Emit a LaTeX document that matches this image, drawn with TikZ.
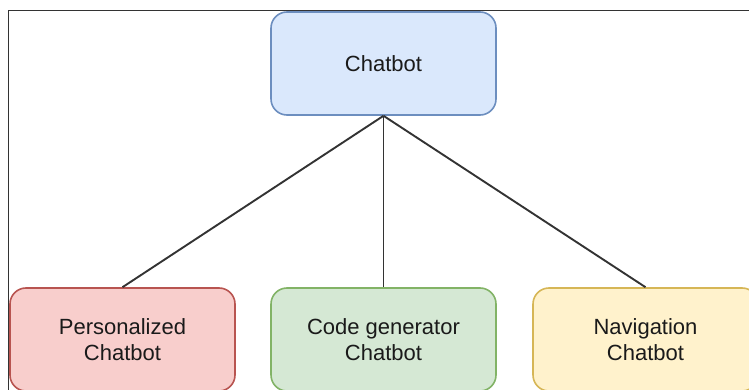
\documentclass[tikz,border=0pt]{standalone}
\usepackage{fontspec}
\setmainfont{Liberation Sans}
\definecolor{bluefill}{HTML}{DAE8FC}\definecolor{bluedraw}{HTML}{6C8EBF}
\definecolor{redfill}{HTML}{F8CECC}\definecolor{reddraw}{HTML}{B85450}
\definecolor{greenfill}{HTML}{D5E8D4}\definecolor{greendraw}{HTML}{82B366}
\definecolor{yellowfill}{HTML}{FFF2CC}\definecolor{yellowdraw}{HTML}{D6B656}
\definecolor{frame}{HTML}{333333}
\definecolor{txt}{HTML}{1A1A1A}
\begin{document}
\begin{tikzpicture}[x=1pt,y=-1pt,
  box/.style={rectangle, rounded corners=16pt, line width=1.6pt,
    minimum width=225pt, minimum height=103pt, inner sep=0pt,
    align=center, text=txt, font=\fontsize{22}{26.5}\selectfont},
  link/.style={line width=1.9pt, draw=frame}]
\useasboundingbox (0,0) rectangle (749,390);
\draw[line width=1.5pt, draw=frame] (749,10.5) -- (8.5,10.5) -- (8.5,390);
\node[box, fill=bluefill, draw=bluedraw] (top) at (383.5,63.5) {Chatbot};
\node[box, fill=redfill, draw=reddraw] (pers) at (122.5,339.5) {Personalized\\Chatbot};
\node[box, fill=greenfill, draw=greendraw] (code) at (383.5,339.5) {Code generator\\Chatbot};
\node[box, fill=yellowfill, draw=yellowdraw] (nav) at (645.5,339.5) {Navigation\\Chatbot};
\draw[link] (top.south) -- (pers.north);
\draw[link] (top.south) -- (code.north);
\draw[link] (top.south) -- (nav.north);
\end{tikzpicture}
\end{document}
